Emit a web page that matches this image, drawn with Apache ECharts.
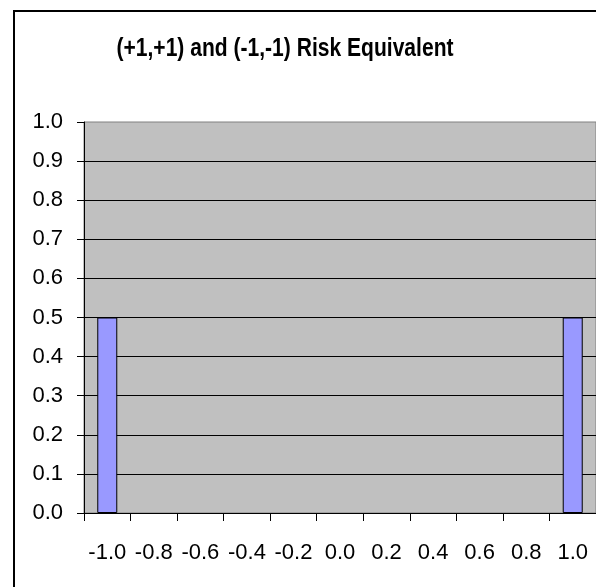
<!DOCTYPE html>
<html>
<head>
<meta charset="utf-8">
<script src="https://cdn.jsdelivr.net/npm/echarts@6/dist/echarts.min.js"></script>
<style>html,body{margin:0;padding:0;background:#fff;}#c{width:596px;height:587px;}</style>
</head>
<body>
<div id="c"></div>
<script>
var titleText = '(+1,+1) and (-1,-1) Risk Equivalent';
var categories = ['-1.0','-0.8','-0.6','-0.4','-0.2','0.0','0.2','0.4','0.6','0.8','1.0'];
var probabilities = [0.5, 0, 0, 0, 0, 0, 0, 0, 0, 0, 0.5];
var yMin = 0, yMax = 1.0, yStep = 0.1;

var chart = echarts.init(document.getElementById('c'), null, {renderer:'canvas'});
chart.setOption({
  animation: false,
  backgroundColor: '#ffffff',
  graphic: [{
    type: 'rect', z: -1, silent: true,
    shape: {x: 14, y: 11, width: 700, height: 700},
    style: {fill: 'none', stroke: '#000', lineWidth: 2}
  }, {
    type: 'text', silent: true,
    x: 285, y: 49, scaleX: 0.81,
    style: {
      text: titleText, align: 'center', verticalAlign: 'middle',
      font: 'bold 26px "Liberation Sans", Arial, sans-serif', fill: '#000'
    }
  }],
  grid: {
    left: 84, top: 122, width: 515, height: 391,
    show: true, backgroundColor: '#C0C0C0', borderColor: '#808080', borderWidth: 1
  },
  xAxis: {
    type: 'category', data: categories, boundaryGap: true,
    axisLine: {show: true, lineStyle: {color: '#000', width: 1}},
    axisTick: {show: true, length: 8, inside: false, lineStyle: {color: '#000'}},
    axisLabel: {color: '#000', fontSize: 22, fontFamily: '"Liberation Sans", Arial, sans-serif', margin: 29, interval: 0},
    splitLine: {show: false}
  },
  yAxis: {
    type: 'value', min: yMin, max: yMax, interval: yStep,
    axisLine: {show: true, lineStyle: {color: '#000', width: 1}},
    axisTick: {show: true, length: 7, lineStyle: {color: '#000'}},
    axisLabel: {color: '#000', fontSize: 22, fontFamily: '"Liberation Sans", Arial, sans-serif', margin: 21,
      formatter: function(v){ return v.toFixed(1); }},
    splitLine: {show: true, showMaxLine: false, lineStyle: {color: '#000', width: 1}}
  },
  series: [{
    type: 'bar', data: probabilities.map(function(v){ return v === 0 ? '-' : v; }), barWidth: 20,
    itemStyle: {color: '#9999FF', borderColor: '#000', borderWidth: 1}
  }]
});
</script>
</body>
</html>
